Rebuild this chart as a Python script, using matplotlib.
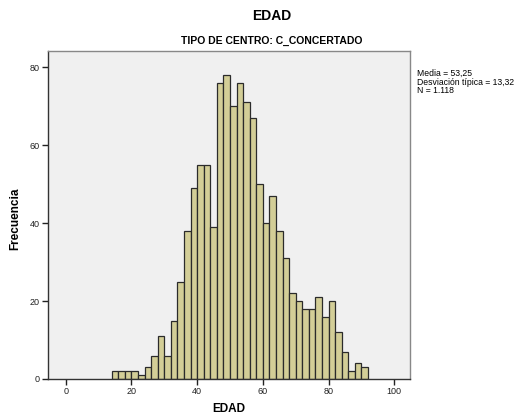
import numpy as np
import matplotlib.pyplot as plt

plt.rcParams['font.family'] = ['Liberation Sans', 'DejaVu Sans']

# Histogram of EDAD, bins of width 2 starting at 14
bin_start = 14
bin_width = 2
counts = [2, 2, 2, 2, 1, 3, 6, 11, 6, 15, 25, 38, 49, 55, 55, 39, 76, 78, 70,
          76, 71, 67, 50, 40, 47, 38, 31, 22, 20, 18, 18, 21, 16, 20, 12, 7,
          2, 4, 3]
x_ticks = [0, 20, 40, 60, 80, 100]
y_ticks = [0, 20, 40, 60, 80]
stats = ["Media = 53,25", "Desviación típica = 13,32", "N = 1.118"]

edges = bin_start + bin_width * np.arange(len(counts))

fig = plt.figure(figsize=(5.26, 4.16), dpi=100, facecolor='white')
W, H = 526, 416
ax = fig.add_axes([48 / W, 1 - 379 / H, (410 - 48) / W, (379 - 51) / H])
ax.set_facecolor('#F0F0F0')

ax.bar(edges, counts, width=bin_width, align='edge',
       color='#D3CE97', edgecolor='#2b2b2b', linewidth=0.9)

ax.set_xlim(-5.4, 104.8)
ax.set_ylim(0, 84.2)
ax.set_xticks(x_ticks)
ax.set_yticks(y_ticks)
ax.tick_params(direction='out', length=4, width=1, labelsize=6.5,
               colors='#222222', pad=2)

for side in ['top', 'right']:
    ax.spines[side].set_color('#888888')
for side in ['left', 'bottom']:
    ax.spines[side].set_color('#333333')
for sp in ax.spines.values():
    sp.set_linewidth(1)

# axis labels placed in figure pixels to match the reference
fig.text(229 / W, 1 - 409 / H, 'EDAD', ha='center', va='center',
         fontsize=8.5, fontweight='bold')
fig.text(15 / W, 1 - 219 / H, 'Frecuencia', ha='center', va='center',
         rotation=90, fontsize=8.5, fontweight='bold')

fig.text(272 / W, 1 - 16 / H, 'EDAD', ha='center', va='center',
         fontsize=10, fontweight='bold')
fig.text(272 / W, 1 - 41 / H, 'TIPO DE CENTRO: C_CONCERTADO', ha='center',
         va='center', fontsize=7.5, fontweight='bold')
fig.text(417 / W, 1 - 69 / H, '\n'.join(stats), ha='left', va='top',
         fontsize=6.2, linespacing=0.95)

fig.savefig('out.png', dpi=100, facecolor='white')
